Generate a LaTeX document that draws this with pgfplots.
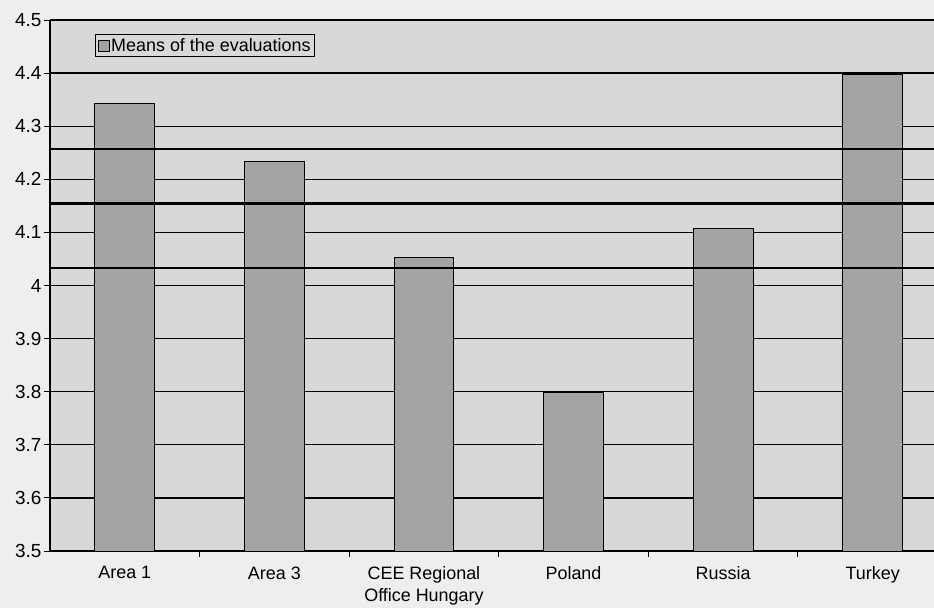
\documentclass[border=0pt]{standalone}
\usepackage{fontspec}
\setmainfont{Liberation Sans}
\usepackage{pgfplots}
\pgfplotsset{compat=1.18}
\definecolor{pagebg}{HTML}{EEEEEE}
\definecolor{plotbg}{HTML}{D8D8D8}
\definecolor{barfill}{HTML}{A4A4A4}
\begin{document}
\begin{tikzpicture}
\fill[pagebg, use as bounding box] (-50bp,-57bp) rectangle (884bp,551bp);
\begin{axis}[
  at={(0,0)}, anchor=south west,
  scale only axis, width=884bp, height=531bp,
  xmin=-0.5, xmax=5.41, ymin=3.5, ymax=4.5,
  axis x line*=bottom, axis y line*=left,
  axis line style={black, line width=1.2bp},
  axis background/.style={fill=plotbg},
  ytick={3.5,3.6,3.7,3.8,3.9,4,4.1,4.2,4.3,4.4,4.5},
  yticklabels={3.5,3.6,3.7,3.8,3.9,4,4.1,4.2,4.3,4.4,4.5},
  ymajorgrids, major grid style={black, line width=1.2bp},
  xtick={0,1,2,3,4,5},
  xticklabels={Area 1, Area 3, {CEE Regional\\Office Hungary}, Poland, Russia, Turkey},
  minor xtick={0.5,1.5,2.5,3.5,4.5},
  major x tick style={draw=none},
  minor x tick style={black, line width=0.9bp},
  y tick style={black, line width=0.9bp},
  tick align=outside, major tick length=6bp, minor tick length=6bp,
  ticklabel style={font=\fontsize{18}{22.5}\selectfont},
  yticklabel style={font=\fontsize{19}{22}\selectfont, xshift=1bp},
  xticklabel style={align=center, yshift=-6bp},
  /pgf/number format/assume math mode=true,
  ybar, bar width=0.4, bar shift=0pt,
  legend style={at={(0.051,0.974)}, anchor=north west, fill=plotbg, draw=black,
    line width=0.9bp, font=\fontsize{18}{21}\selectfont, inner sep=2bp, row sep=0pt},
  legend image code/.code={\draw[#1, line width=0.7bp] (0bp,-5.5bp) rectangle (11bp,5.5bp);},
]
\addplot[fill=barfill, draw=black, line width=1bp] coordinates {
  (0,4.342) (1,4.233) (2,4.052) (3,3.798) (4,4.108) (5,4.398)};
\addlegendentry{Means of the evaluations}
\addplot[sharp plot, draw=black, line width=1.2bp, forget plot] coordinates {(-0.5,4.257) (6,4.257)};
\addplot[sharp plot, draw=black, line width=1.2bp, forget plot] coordinates {(-0.5,4.033) (6,4.033)};
\addplot[sharp plot, draw=black, line width=3bp, forget plot] coordinates {(-0.5,4.155) (6,4.155)};
\addplot[sharp plot, draw=black, line width=2.2bp, forget plot] coordinates {(-0.5,4.033) (-0.5,4.257)};
\end{axis}
\end{tikzpicture}
\end{document}
